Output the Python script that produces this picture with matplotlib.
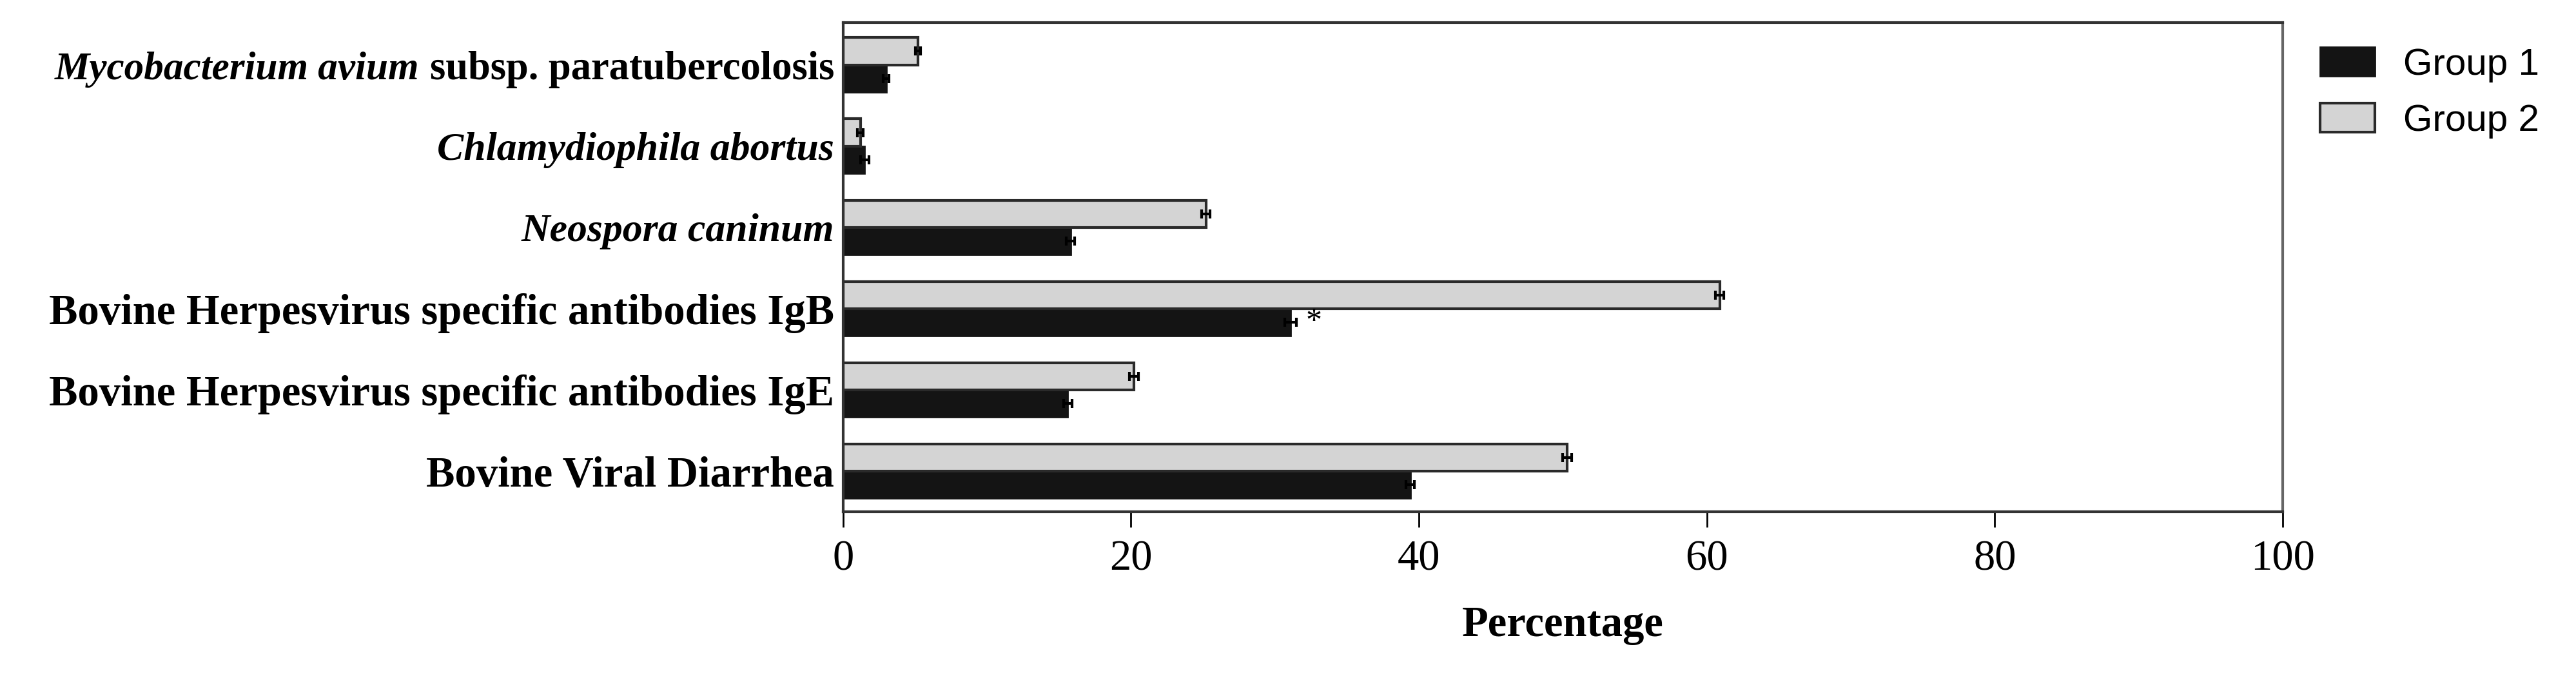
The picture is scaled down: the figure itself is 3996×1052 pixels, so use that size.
import numpy as np
import matplotlib
matplotlib.use("Agg")
import matplotlib.pyplot as plt

# Data (percent positive)
categories = [
    "Bovine Viral Diarrhea",
    "Bovine Herpesvirus specific antibodies IgE",
    "Bovine Herpesvirus specific antibodies IgB",
    "Neospora caninum",
    "Chlamydiophila abortus",
    "subsp. paratubercolosis",
]
italic_labels = [3, 4]
map_prefix = "Mycobacterium avium"
group1 = [39.4, 15.6, 31.1, 15.8, 1.5, 3.0]
group2 = [50.3, 20.2, 60.9, 25.2, 1.2, 5.2]
err1 = [0.3, 0.3, 0.4, 0.3, 0.3, 0.2]
err2 = [0.3, 0.3, 0.3, 0.3, 0.2, 0.2]

plt.rcParams["font.family"] = "Liberation Serif"

fig = plt.figure(figsize=(39.96, 10.52), dpi=100)
ax = fig.add_axes([0.3273, 0.2452, 0.5588, 0.7215])

y = np.arange(len(categories))
h = 0.335
ax.barh(y - h / 2, group1, height=h, color="#141414", edgecolor="#141414",
        linewidth=2, label="Group 1",
        xerr=err1, error_kw=dict(ecolor="black", elinewidth=3, capsize=5, capthick=3))
ax.barh(y + h / 2, group2, height=h, color="#d4d4d4", edgecolor="#2a2a2a",
        linewidth=3, label="Group 2",
        xerr=err2, error_kw=dict(ecolor="black", elinewidth=3, capsize=5, capthick=3))

# significance mark
ax.text(group1[2] + 1.6, y[2] - h / 2, "*", fontsize=36, ha="center", va="center")

ax.set_xlim(0, 100)
ax.set_ylim(-0.5, 5.52)
ax.set_xticks([0, 20, 40, 60, 80, 100])
ax.set_yticks(y)
ax.set_yticklabels(categories, fontsize=48, fontweight="bold")
for i in italic_labels:
    ax.get_yticklabels()[i].set_fontstyle("italic")
    ax.get_yticklabels()[i].set_fontsize(44.5)
ax.get_yticklabels()[-1].set_fontsize(45)
ax.tick_params(axis="y", length=0, pad=10)
ax.tick_params(axis="x", length=17, width=2, labelsize=48, pad=14, direction="out")
ax.set_xlabel("Percentage", fontsize=48, fontweight="bold", labelpad=30)

# italic genus/species part in front of the last label
last = ax.get_yticklabels()[-1]
ax.annotate(map_prefix, xy=(0, 0.5), xycoords=last, xytext=(-16, 0),
            textcoords="offset pixels", ha="right", va="center",
            fontsize=44, fontweight="bold", fontstyle="italic")

for s in ax.spines.values():
    s.set_linewidth(3)
    s.set_color("#333333")
ax.spines["right"].set_color("#666666")

fig.legend(loc="upper left", bbox_to_anchor=(0.8934, 0.958), frameon=False,
           prop={"family": "Liberation Sans", "size": 42},
           borderpad=0, handlelength=1.45, handleheight=0.8,
           handletextpad=0.75, labelspacing=0.55)

fig.savefig("out.png", dpi=100)
